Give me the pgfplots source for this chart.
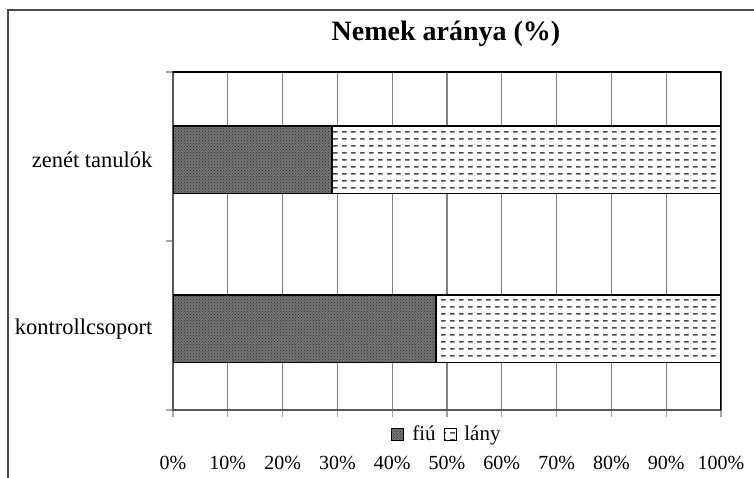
\documentclass[border=0pt]{standalone}
\usepackage{fontspec}
\setmainfont{Liberation Serif}
\usepackage{pgfplots}
\pgfplotsset{compat=1.18}
\usetikzlibrary{patterns,patterns.meta}

% dashed horizontal rows for the "lány" share
\tikzdeclarepattern{
  name=hdash,
  type=uncolored,
  bounding box={(0pt,0pt) and (9pt,7pt)},
  tile size={(9pt,7pt)},
  code={\pgfsetlinewidth{1.6pt}
    \pgfpathmoveto{\pgfpoint{0pt}{3.5pt}}\pgfpathlineto{\pgfpoint{5pt}{3.5pt}}
    \pgfusepath{stroke}}
}

\begin{document}
\begin{tikzpicture}[x=1pt,y=1pt]
\useasboundingbox (0,0) rectangle (754,478);
\draw[black!70, line width=1.3pt] (8,0) -- (8,468) -- (754,468);
\node[font=\fontsize{28}{33}\selectfont\bfseries] at (446,444) {Nemek aránya (\%)};
\begin{axis}[
  at={(173pt,68pt)}, anchor=south west,
  width=548pt, height=338pt, scale only axis,
  xbar stacked, bar width=0.4,
  xmin=0, xmax=100, ymin=0, ymax=2,
  xtick={0,10,...,100},
  xticklabels={0\%,10\%,20\%,30\%,40\%,50\%,60\%,70\%,80\%,90\%,100\%},
  xticklabel style={yshift=-36pt},
  ytick={0.48,1.48},
  yticklabels={kontrollcsoport,zenét tanulók},
  yticklabel style={xshift=-10pt, font=\fontsize{22.5}{26}\selectfont},
  minor ytick={0,1,2},
  xtick pos=bottom, ytick pos=left,
  tick align=outside,
  major tick length=7pt, minor tick length=7pt,
  every major y tick/.append style={draw=none},
  every tick/.append style={black!35, line width=1.2pt},
  every tick label/.append style={font=\fontsize{20}{24}\selectfont},
  xmajorgrids,
  major x grid style={black!50, line width=1.3pt},
  axis line style={draw=black!65, line width=1.5pt},
  legend style={at={(axis description cs:0.5,-0.035)}, anchor=north,
    draw=none, fill=none, font=\fontsize{21}{25}\selectfont,
    legend columns=2, column sep=6pt},
  legend image code/.code={\draw[#1, line width=0.8pt] (0pt,-6pt) rectangle (12pt,6pt);},
]
\addplot[fill=black!55, draw=black, line width=1.5pt,
  postaction={pattern=crosshatch dots, pattern color=black!80}]
  coordinates {(48,0.48) (29,1.48)};
\addlegendentry{fiú}
\addplot[fill=white, draw=black, line width=1.5pt,
  postaction={pattern=hdash, pattern color=black!70}]
  coordinates {(52,0.48) (71,1.48)};
\addlegendentry{lány}
\draw[black, line width=1.5pt] (rel axis cs:0,1) -- (rel axis cs:1,1) -- (rel axis cs:1,0);
\end{axis}
\end{tikzpicture}
\end{document}
